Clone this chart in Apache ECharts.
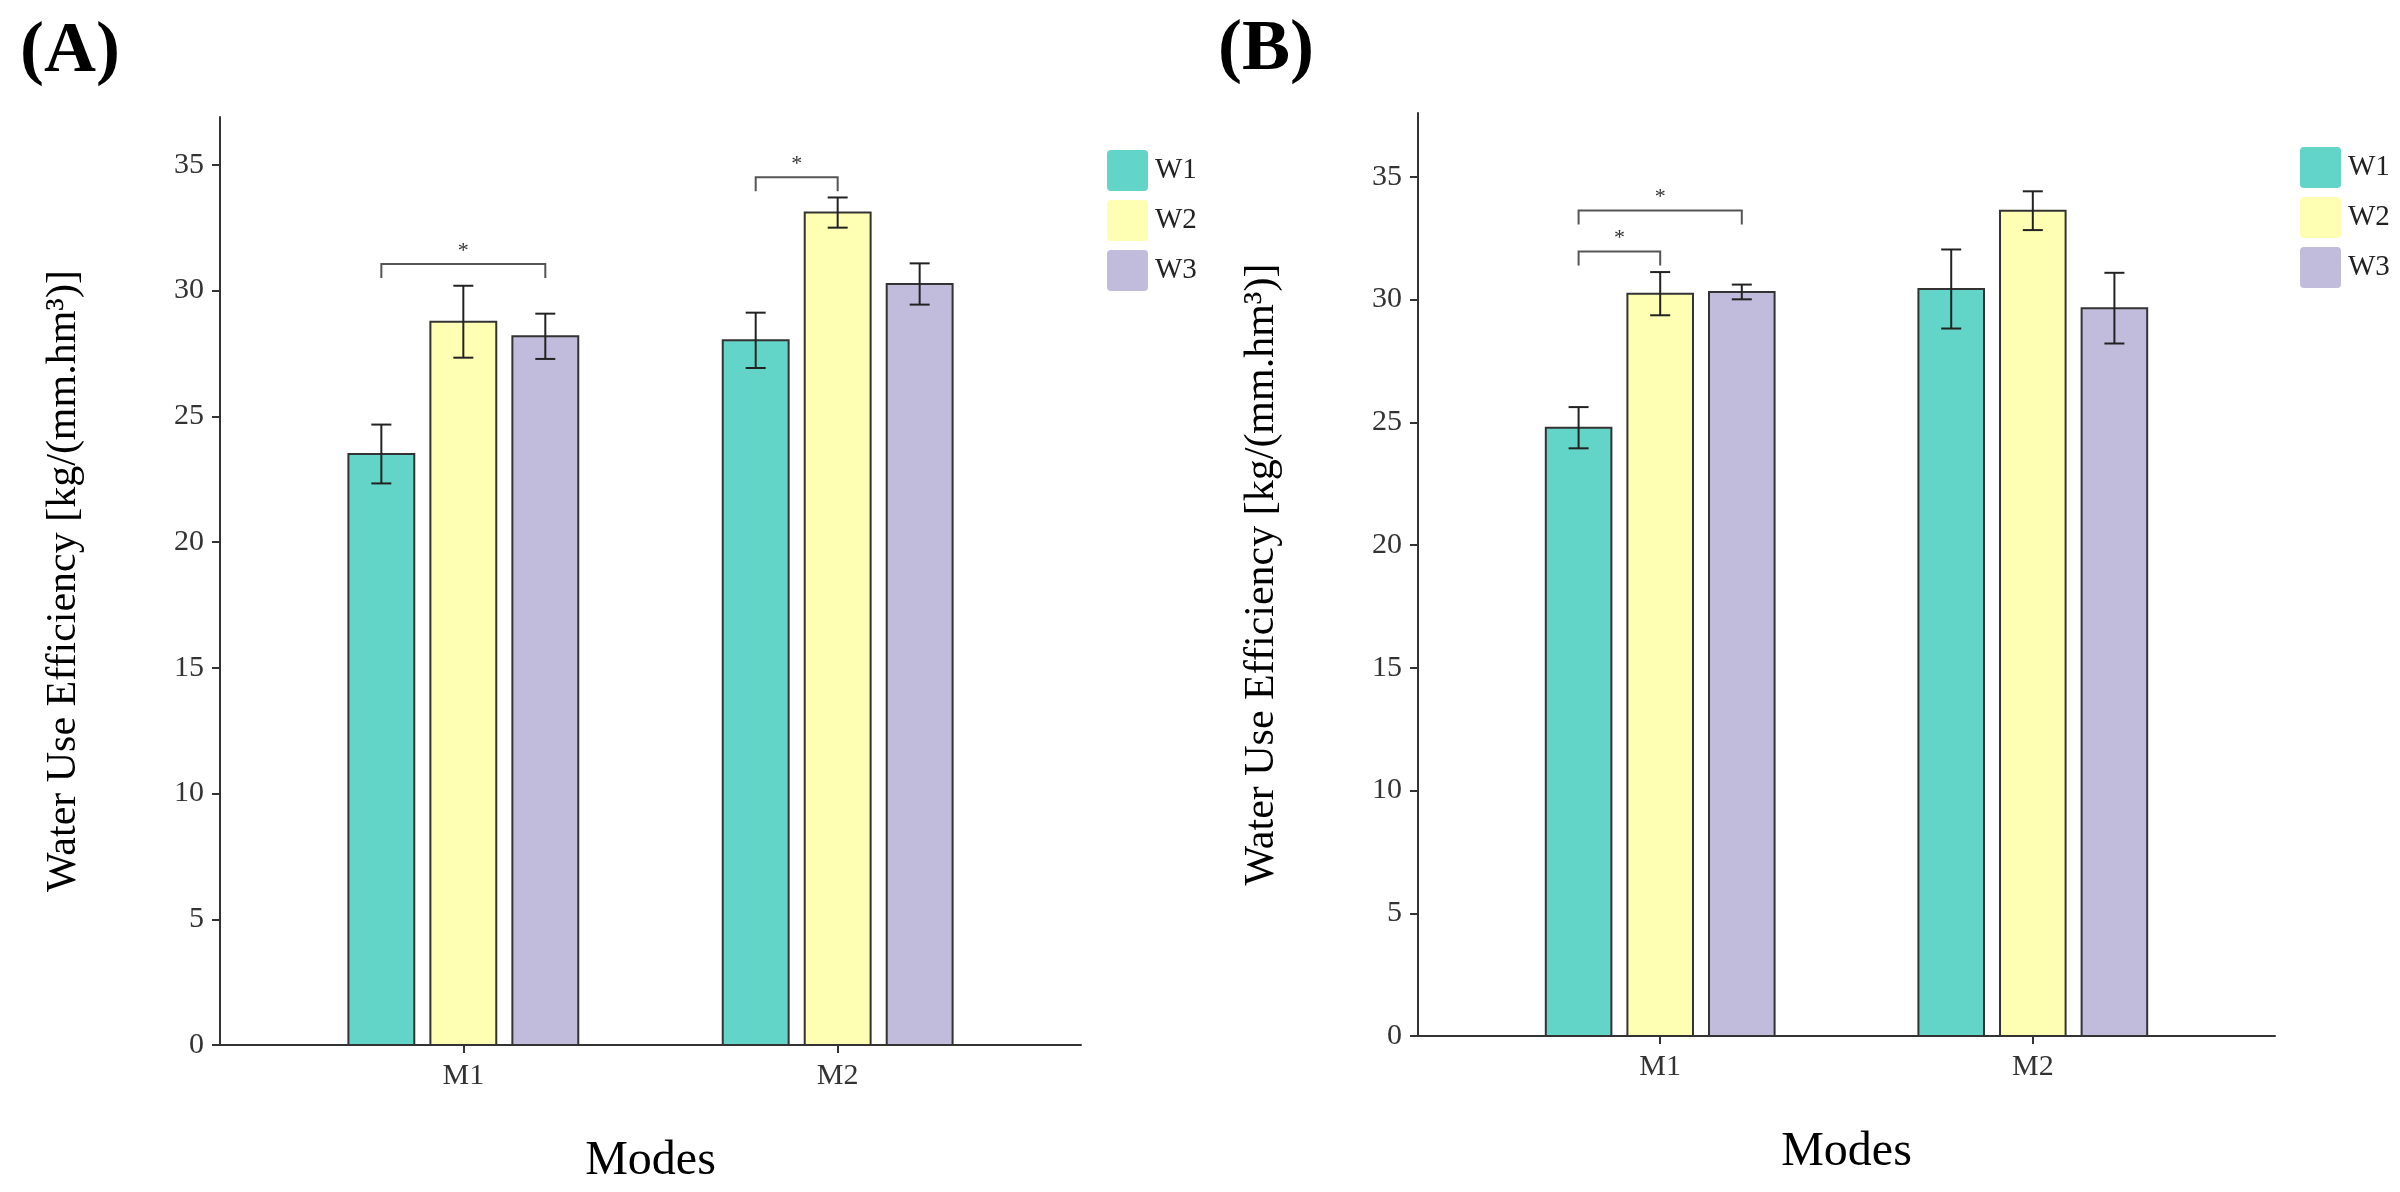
<!DOCTYPE html>
<html>
<head>
<meta charset="utf-8">
<script src="https://cdn.jsdelivr.net/npm/echarts@6/dist/echarts.min.js"></script>
<style>
html,body{margin:0;padding:0;background:#fff;}
#c{width:2400px;height:1192px;}
</style>
</head>
<body>
<div id="c"></div>
<script>
const categories = ['M1', 'M2'];
const groupNames = ['W1', 'W2', 'W3'];
const yTicks = [0, 5, 10, 15, 20, 25, 30, 35];

// Panel A means and error bars
const meanA_W1 = [23.50, 28.02];
const meanA_W2 = [28.76, 33.10];
const meanA_W3 = [28.18, 30.26];
const errA_W1 = [1.17, 1.10];
const errA_W2 = [1.43, 0.60];
const errA_W3 = [0.90, 0.82];

// Panel B means and error bars
const meanB_W1 = [24.78, 30.43];
const meanB_W2 = [30.24, 33.62];
const meanB_W3 = [30.31, 29.65];
const errB_W1 = [0.84, 1.61];
const errB_W2 = [0.88, 0.79];
const errB_W3 = [0.30, 1.44];

// significance brackets: [category index, from group, to group, bracket height]
const bracketsA = [[0, 0, 2, 31.05], [1, 0, 1, 34.50]];
const bracketsB = [[0, 0, 1, 31.96], [0, 0, 2, 33.63]];
const bracketLabel = '*';

const colors = ['#62D5C8', '#FFFFB4', '#C1BCDC'];
const FONT = '"Liberation Serif", "Times New Roman", serif';
const BAR_W = 0.176, BAR_STEP = 0.219;

function barRender(gi) {
  return function (params, api) {
    const x = api.value(0), y = api.value(1), e = api.value(2);
    const unit = api.size([1, 0])[0];
    const base = api.coord([x, 0]);
    const top = api.coord([x, y]);
    const cx = base[0] + (gi - 1) * BAR_STEP * unit;
    const bw = BAR_W * unit;
    const hi = api.coord([x, y + e])[1];
    const lo = api.coord([x, y - e])[1];
    const cap = 10;
    const ls = { stroke: '#222', lineWidth: 2 };
    return {
      type: 'group',
      children: [
        { type: 'rect', shape: { x: cx - bw / 2, y: top[1], width: bw, height: base[1] - top[1] },
          style: { fill: colors[gi], stroke: '#333', lineWidth: 2 } },
        { type: 'line', shape: { x1: cx, y1: hi, x2: cx, y2: lo }, style: ls },
        { type: 'line', shape: { x1: cx - cap, y1: hi, x2: cx + cap, y2: hi }, style: ls },
        { type: 'line', shape: { x1: cx - cap, y1: lo, x2: cx + cap, y2: lo }, style: ls }
      ]
    };
  };
}

function bracketRender(params, api) {
  const c = api.value(0), g1 = api.value(1), g2 = api.value(2), h = api.value(3);
  const x = c + 1;
  const unit = api.size([1, 0])[0];
  const p = api.coord([x, h]);
  const x1 = p[0] + (g1 - 1) * BAR_STEP * unit;
  const x2 = p[0] + (g2 - 1) * BAR_STEP * unit;
  const drop = 14;
  const ls = { stroke: '#555', lineWidth: 2, fill: null };
  return {
    type: 'group',
    children: [
      { type: 'polyline', shape: { points: [[x1, p[1] + drop], [x1, p[1]], [x2, p[1]], [x2, p[1] + drop]] }, style: ls },
      { type: 'text', x: (x1 + x2) / 2, y: p[1] - 2,
        style: { text: bracketLabel, fill: '#333', font: '22px ' + FONT, align: 'center', verticalAlign: 'bottom' } }
    ]
  };
}

function toData(means, errs) {
  return means.map((m, i) => [i + 1, m, errs[i]]);
}

const meansA = [meanA_W1, meanA_W2, meanA_W3];
const errsA = [errA_W1, errA_W2, errA_W3];
const meansB = [meanB_W1, meanB_W2, meanB_W3];
const errsB = [errB_W1, errB_W2, errB_W3];

function xAxisCfg(gridIndex) {
  return {
    type: 'value', gridIndex, min: 0.35, max: 2.65,
    name: 'Modes', nameLocation: 'middle', nameGap: 92,
    nameTextStyle: { fontFamily: FONT, fontSize: 48, color: '#000' },
    axisLine: { show: true, lineStyle: { color: '#333', width: 2 } },
    axisTick: { show: true, length: 8, customValues: [1, 2], lineStyle: { color: '#333', width: 2 } },
    axisLabel: { customValues: [1, 2], formatter: v => categories[Math.round(v) - 1] || '',
      fontFamily: FONT, fontSize: 30, color: '#333', margin: 16 },
    splitLine: { show: false }
  };
}
function yAxisCfg(gridIndex, max) {
  return {
    type: 'value', gridIndex, min: 0, max: max,
    name: 'Water Use Efficiency [kg/(mm.hm³)]', nameLocation: 'middle', nameGap: 135, nameRotate: 90,
    nameTextStyle: { fontFamily: FONT, fontSize: 42, color: '#000' },
    axisLine: { show: true, lineStyle: { color: '#333', width: 2 } },
    axisTick: { show: true, length: 8, customValues: yTicks, lineStyle: { color: '#333', width: 2 } },
    axisLabel: { customValues: yTicks, fontFamily: FONT, fontSize: 30, color: '#333', margin: 16 },
    splitLine: { show: false }
  };
}

const series = [];
[[meansA, errsA, 0], [meansB, errsB, 1]].forEach(([ms, es, gi]) => {
  groupNames.forEach((name, k) => {
    series.push({
      type: 'custom', name: name, xAxisIndex: gi, yAxisIndex: gi,
      itemStyle: { color: colors[k] },
      renderItem: barRender(k),
      encode: { x: 0, y: 1 },
      data: toData(ms[k], es[k]),
      silent: true
    });
  });
});
[[bracketsA, 0], [bracketsB, 1]].forEach(([br, gi]) => {
  series.push({
    type: 'custom', name: 'sig' + gi, xAxisIndex: gi, yAxisIndex: gi,
    renderItem: bracketRender,
    encode: { x: 0, y: 3 },
    data: br,
    silent: true, z: 5
  });
});

const legendIcon = 'path://M4,0 H37 Q41,0 41,4 V37 Q41,41 37,41 H4 Q0,41 0,37 V4 Q0,0 4,0 Z';
function legendCfg(left, top) {
  return {
    orient: 'vertical', left: left, top: top, padding: 0,
    data: groupNames, icon: legendIcon, itemWidth: 41, itemHeight: 41, itemGap: 9,
    itemStyle: { borderWidth: 0 },
    textStyle: { fontFamily: FONT, fontSize: 29, color: '#222', padding: [0, 0, 0, 2] },
    selectedMode: false
  };
}

const option = {
  backgroundColor: '#fff',
  animation: false,
  title: [
    { text: '(A)', left: 20, top: 16, padding: 0, textStyle: { fontFamily: FONT, fontSize: 72, fontWeight: 'bold', color: '#000' } },
    { text: '(B)', left: 1218, top: 14, padding: 0, textStyle: { fontFamily: FONT, fontSize: 72, fontWeight: 'bold', color: '#000' } }
  ],
  legend: [legendCfg(1107, 150), legendCfg(2300, 147)],
  grid: [
    { left: 220, top: 117, width: 861, height: 928, outerBoundsMode: 'none' },
    { left: 1418, top: 113, width: 857, height: 923, outerBoundsMode: 'none' }
  ],
  xAxis: [xAxisCfg(0), xAxisCfg(1)],
  yAxis: [yAxisCfg(0, 36.9), yAxisCfg(1, 37.6)],
  series: series
};

const chart = echarts.init(document.getElementById('c'));
chart.setOption(option);
</script>
</body>
</html>
